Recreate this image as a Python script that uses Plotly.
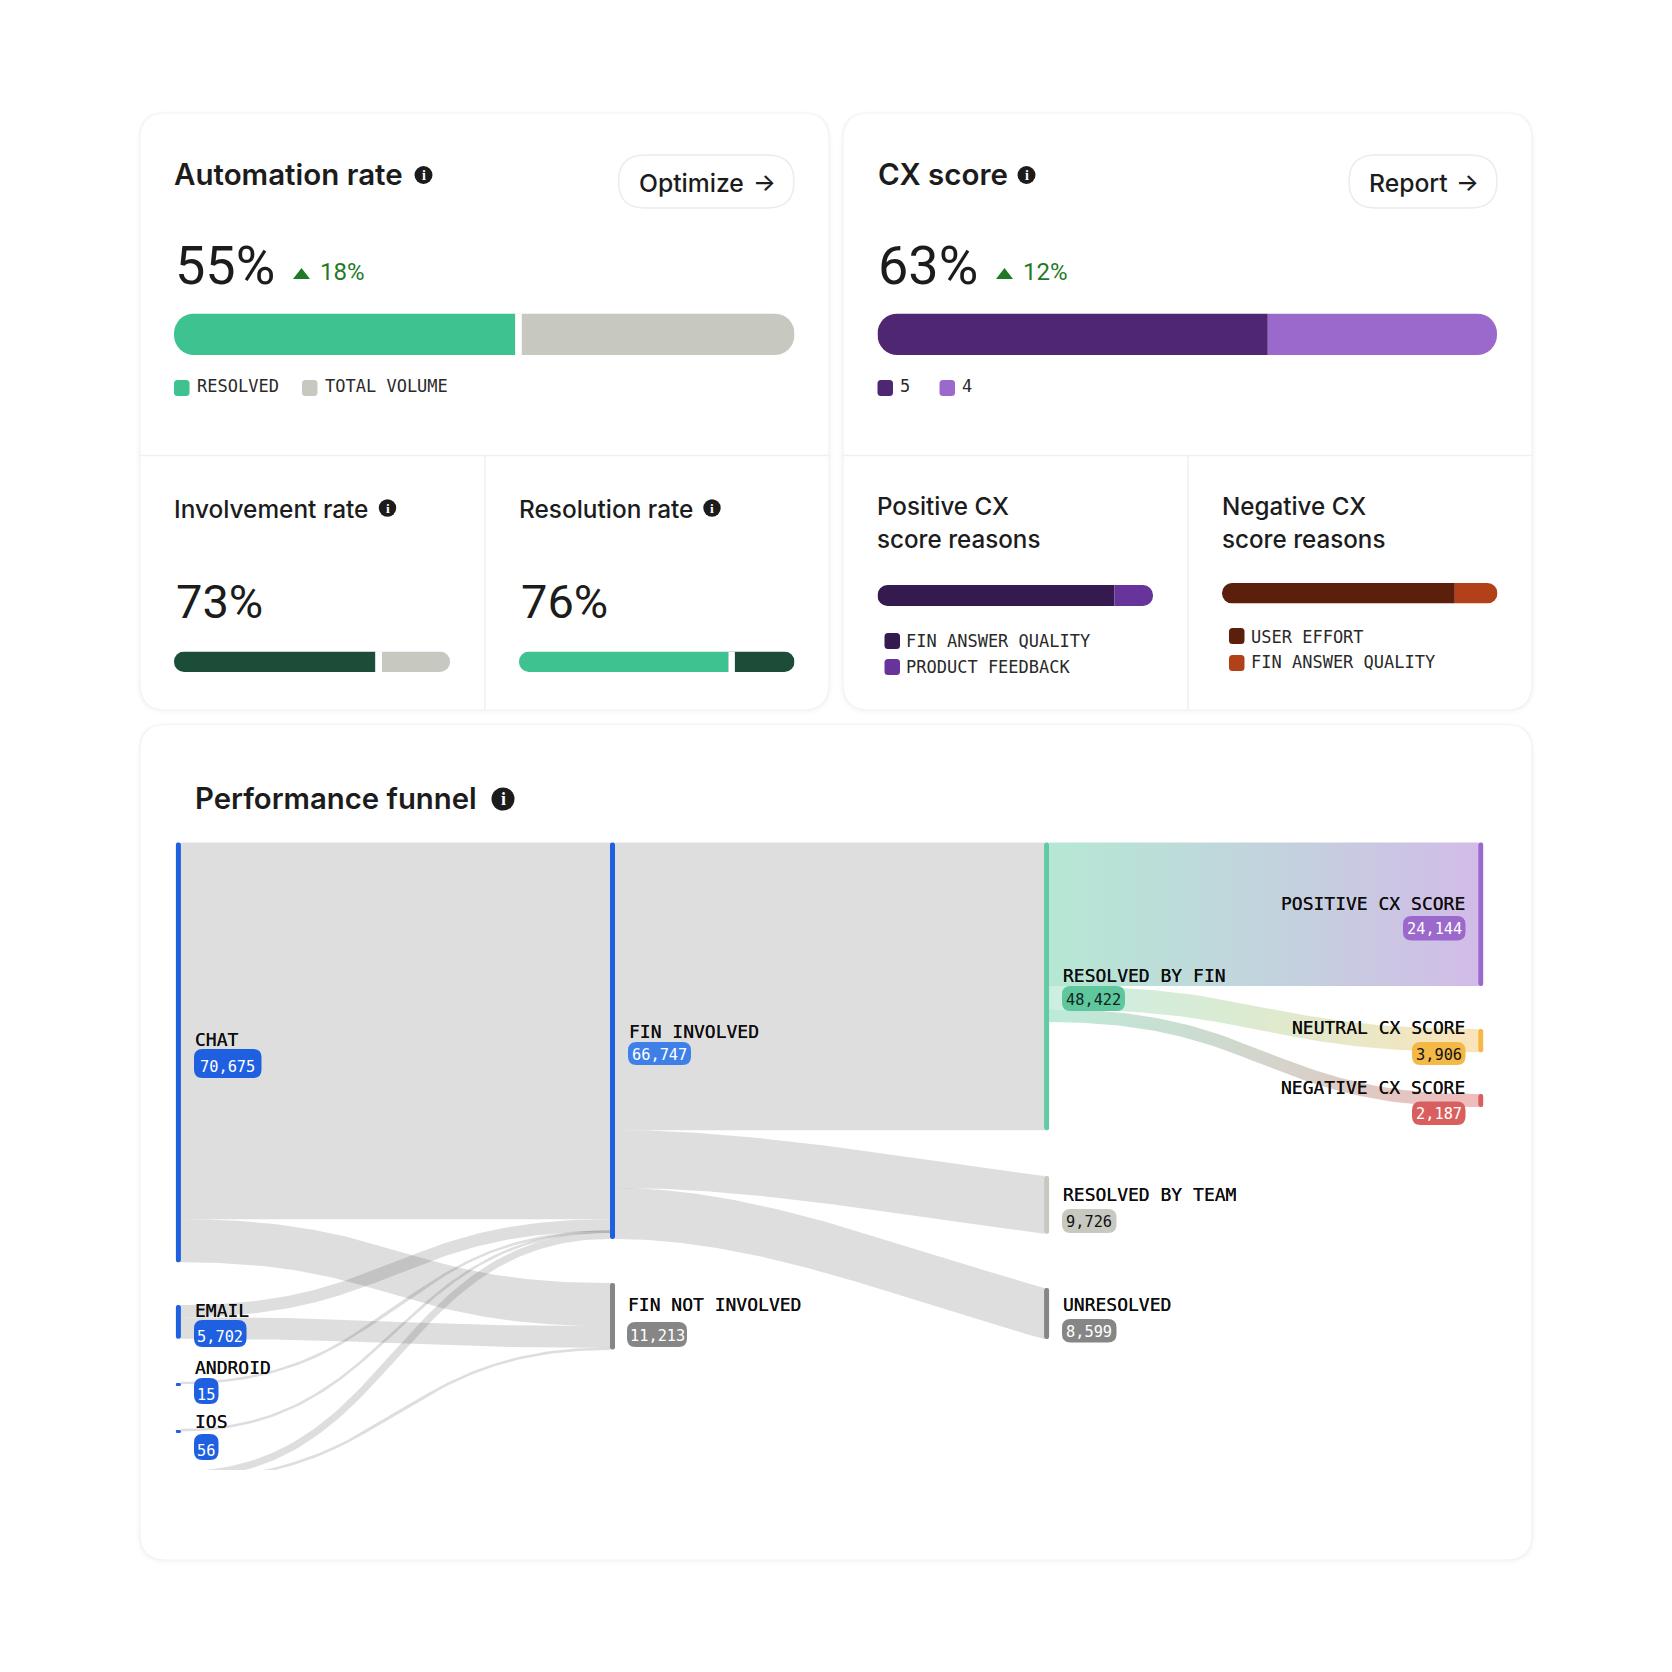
import plotly.graph_objects as go

PAGE = 1672
SANS = "Inter"
NUM = "Roboto"
MONO = "DejaVu Sans Mono"
INK = "#1c1c1c"

# ---------- data ----------
AUTOMATION_VALUES = [55, 45]
CX_VALUES = [63, 37]
INVOLVEMENT_VALUES = [73, 27]
RESOLUTION_VALUES = [76, 24]
POSITIVE_REASON_VALUES = [86, 14]
NEGATIVE_REASON_VALUES = [84.5, 15.5]

NODE_NAMES = ["CHAT", "EMAIL", "ANDROID", "IOS", "OTHER", "FIN INVOLVED", "FIN NOT INVOLVED",
              "RESOLVED BY FIN", "RESOLVED BY TEAM", "UNRESOLVED",
              "POSITIVE CX SCORE", "NEUTRAL CX SCORE", "NEGATIVE CX SCORE"]
NODE_VALUES = [70675, 5702, 15, 56, 1512, 66747, 11213, 48422, 9726, 8599, 24144, 3906, 2187]
LINK_SOURCE = [0, 0, 1, 1, 2, 3, 4, 4, 5, 5, 5, 7, 7, 7]
LINK_TARGET = [5, 6, 5, 6, 5, 5, 5, 6, 7, 8, 9, 10, 11, 12]
LINK_VALUE = [63425, 7250, 2050, 3652, 15, 56, 1201, 311, 48422, 9726, 8599, 24144, 3906, 2187]

# ---------- layout constants ----------
NODE_COLUMN = [0, 0, 0, 0, 0, 1, 1, 2, 2, 2, 3, 3, 3]
NODE_TOP_PX = [842.5, 1305, 1383, 1430, 1471, 842.5, 1283, 842.5, 1176, 1288, 842.5, 1029, 1094]
NODE_COLOR = ["#1F60E0", "#1F60E0", "#1F60E0", "#1F60E0", "#1F60E0", "#1F60E0", "#868686",
              "#62CBA4", "#C7C9C0", "#868686", "#9B69CB", "#F3B846", "#D95F5F"]
PX_PER_COUNT = 0.00594
COL_X0, COL_STEP = 178.4, 434.1
FUN_LEFT, FUN_RIGHT, FUN_TOP, FUN_BOTTOM = 170.0, 1495.0, 842.0, 1470.0
NODE_W = 5.0
SLOPED_TARGETS = {8: 1.2, 9: 1.2}


def px2col(px):
    return (px - COL_X0) / COL_STEP


def px2cnt(py):
    return (py - FUN_TOP) / PX_PER_COUNT


def rr(x0, y0, x1, y1, r):
    return (f"M{x0+r},{y0} L{x1-r},{y0} Q{x1},{y0} {x1},{y0+r} L{x1},{y1-r} Q{x1},{y1} {x1-r},{y1} "
            f"L{x0+r},{y1} Q{x0},{y1} {x0},{y1-r} L{x0},{y0+r} Q{x0},{y0} {x0+r},{y0} Z")


shapes, annos, traces = [], [], []
axes = {}


def box(x0, y0, x1, y1, r, fill, line=None, lw=0, layer="below"):
    shapes.append(dict(type="path", path=rr(x0, y0, x1, y1, r), xref="x", yref="y",
                       fillcolor=fill, line=dict(color=line or "rgba(0,0,0,0)", width=lw), layer=layer))


def text(x, y, s, size, color=INK, family=SANS, anchor="left", weight=400, shadow=None):
    font = dict(size=size, color=color, family=family, weight=weight)
    if shadow:
        font["shadow"] = shadow
    annos.append(dict(x=x, y=y, xref="x", yref="y", text=s, showarrow=False, xanchor=anchor, yanchor="middle",
                      font=font, borderpad=0))


def hline(x0, x1, y0, y1, color="#EFEFED", w=1.5):
    shapes.append(dict(type="line", x0=x0, x1=x1, y0=y0, y1=y1, xref="x", yref="y",
                       line=dict(color=color, width=w), layer="below"))


def info(x, y, r):
    shapes.append(dict(type="circle", x0=x-r, x1=x+r, y0=y-r, y1=y+r, xref="x", yref="y",
                       fillcolor="#1c1c1c", line=dict(width=0), layer="above"))
    text(x, y, "i", r*1.55, "#ffffff", "Liberation Serif", "center", 700)


def card(x0, y0, x1, y1):
    for d, a in [(5, .005), (3.5, .008), (2, .01), (1, .013)]:
        box(x0-d, y0-d*.6, x1+d, y1+d*1.2, 26+d, f"rgba(0,0,0,{a})")
    box(x0, y0, x1, y1, 26, "#ffffff", "#F3F3F1", 1.2)


def tri(x, y):
    shapes.append(dict(type="path", path=f"M{x},{y+11} L{x+8.5},{y} L{x+17},{y+11} Z", xref="x", yref="y",
                       fillcolor="#1F7A26", line=dict(width=0), layer="above"))


n_ax = [1]


def split_bar(values, colors, x0, x1, y0, y1, radius, gap_px=0):
    """Axis zero is the split: both bars grow outwards, so only their outer ends get rounded."""
    n_ax[0] += 1
    i = n_ax[0]
    axes[f"xaxis{i}"] = dict(domain=[x0/PAGE, x1/PAGE], range=[-values[0], values[1]], visible=False,
                             fixedrange=True, anchor=f"y{i}")
    axes[f"yaxis{i}"] = dict(domain=[1-y1/PAGE, 1-y0/PAGE], range=[-.5, .5], visible=False, fixedrange=True, anchor=f"x{i}")
    for val, col in ((-values[0], colors[0]), (values[1], colors[1])):
        traces.append(go.Bar(x=[val], y=[0], width=[1], orientation="h",
                             marker=dict(color=col, cornerradius=radius, line=dict(width=0)),
                             xaxis=f"x{i}", yaxis=f"y{i}", hoverinfo="skip", showlegend=False))
    if gap_px:
        gap = gap_px / (x1 - x0) * sum(values)
        traces.append(go.Bar(x=[gap], y=[0], width=[1], orientation="h",
                             marker=dict(color="#ffffff", line=dict(width=0)),
                             xaxis=f"x{i}", yaxis=f"y{i}", hoverinfo="skip", showlegend=False))


def legend_item(x, y, s, color, tx, ty):
    box(x, y-8, x+15.5, y+8, 3.5, color, layer="above")
    text(tx, ty, s, 17, "#2a2a2a", MONO)


# ---------- cards ----------
card(140, 113, 829, 710)
card(843, 113, 1532, 710)
card(140, 724.5, 1532, 1560)
hline(140, 829, 455.5, 455.5)
hline(843, 1532, 455.5, 455.5)
hline(485, 485, 456, 710)
hline(1188, 1188, 456, 710)

# ---------- top left ----------
text(173, 173.5, "Automation rate", 29.5, weight=600)
info(423.5, 175, 9)
box(618.5, 155, 794, 208, 26.5, "#ffffff", "#ECECEA", 1.5)
text(638, 183, "Optimize", 24.7, weight=500)
text(764, 182, "→", 24, weight=500, anchor="center")
text(174, 265, "55%", 54, family=NUM)
tri(293, 268)
text(318.5, 272, "18%", 24, "#1F7A26", NUM)
split_bar(AUTOMATION_VALUES, ["#3EC28F", "#C7C9C0"], 174, 794.5, 313.5, 355, 20.5, 6.5)
legend_item(174, 388, "RESOLVED", "#3EC28F", 196, 386)
legend_item(302, 388, "TOTAL VOLUME", "#C7C9C0", 323.5, 386)

text(173, 509, "Involvement rate", 24.4, weight=500)
info(387.5, 508, 8.7)
text(174.5, 601, "73%", 47, family=NUM)
split_bar(INVOLVEMENT_VALUES, ["#1B4D38", "#C7C9C0"], 174, 450, 651.5, 672, 10, 6.5)

text(518, 509, "Resolution rate", 24.4, weight=500)
info(712, 508, 8.7)
text(519.5, 601, "76%", 47, family=NUM)
split_bar(RESOLUTION_VALUES, ["#3EC28F", "#1B4D38"], 519, 794.5, 651.5, 672, 10, 6.5)

# ---------- top right ----------
text(876.5, 173.5, "CX score", 29.5, weight=600)
info(1026.5, 175, 9)
box(1349, 155, 1497, 208, 26.5, "#ffffff", "#ECECEA", 1.5)
text(1368, 183, "Report", 24.7, weight=500)
text(1467, 182, "→", 24, weight=500, anchor="center")
text(877, 265, "63%", 54, family=NUM)
tri(996, 268)
text(1021.5, 272, "12%", 24, "#1F7A26", NUM)
split_bar(CX_VALUES, ["#4F2672", "#9B69CB"], 877.5, 1497, 313.5, 355, 20.5)
legend_item(877.5, 388, "5", "#4F2672", 898.5, 386)
legend_item(939.5, 388, "4", "#9B69CB", 960.5, 386)

text(876, 506, "Positive CX", 24.2, weight=500)
text(876, 539, "score reasons", 24.2, weight=500)
split_bar(POSITIVE_REASON_VALUES, ["#351A50", "#67349B"], 877.5, 1153, 585, 606, 10)
legend_item(884.5, 641, "FIN ANSWER QUALITY", "#351A50", 905, 641)
legend_item(884.5, 667, "PRODUCT FEEDBACK", "#67349B", 905, 667)

text(1221, 506, "Negative CX", 24.2, weight=500)
text(1221, 539, "score reasons", 24.2, weight=500)
split_bar(NEGATIVE_REASON_VALUES, ["#5C1F0C", "#B24019"], 1222, 1497.5, 583, 603.5, 10)
legend_item(1229, 636, "USER EFFORT", "#5C1F0C", 1250, 637)
legend_item(1229, 663, "FIN ANSWER QUALITY", "#B24019", 1250, 662)

# ---------- funnel ----------
text(194, 798, "Performance funnel", 29.3, weight=600)
info(503, 799, 11.5)

axes["xaxis20"] = dict(domain=[FUN_LEFT/PAGE, FUN_RIGHT/PAGE], range=[px2col(FUN_LEFT), px2col(FUN_RIGHT)],
                       visible=False, fixedrange=True, anchor="y20")
axes["yaxis20"] = dict(domain=[1-FUN_BOTTOM/PAGE, 1-FUN_TOP/PAGE], range=[px2cnt(FUN_BOTTOM), px2cnt(FUN_TOP)],
                       visible=False, fixedrange=True, anchor="x20")

GRAY_LINK = "rgba(90,90,90,0.2)"
LINK_GRADIENT = {
    10: ("rgba(62,194,143,0.38)", "rgba(155,105,203,0.45)"),
    11: ("rgba(62,194,143,0.26)", "rgba(243,184,70,0.38)"),
    12: ("rgba(62,194,143,0.34)", "rgba(217,95,95,0.42)"),
}


def ribbon(x0, y0, x1, y1, w, end_slope=None, n=90):
    """A band round a horizontal bezier. With end_slope it keeps sloping into the target and is cut vertically."""
    if end_slope is None:
        c = [(x0, y0), ((x0+x1)/2, y0), ((x0+x1)/2, y1), (x1, y1)]
    else:
        dx3 = (x1-x0)/3
        c = [(x0, y0), (x0+dx3, y0), (x1-dx3, y1-end_slope*(y1-y0)/3), (x1, y1)]
    top, bot = [], []
    for j in range(n + 1):
        t = j / n
        u = 1 - t
        x = u**3*c[0][0] + 3*u*u*t*c[1][0] + 3*u*t*t*c[2][0] + t**3*c[3][0]
        y = u**3*c[0][1] + 3*u*u*t*c[1][1] + 3*u*t*t*c[2][1] + t**3*c[3][1]
        dx = 3*u*u*(c[1][0]-c[0][0]) + 6*u*t*(c[2][0]-c[1][0]) + 3*t*t*(c[3][0]-c[2][0])
        dy = 3*u*u*(c[1][1]-c[0][1]) + 6*u*t*(c[2][1]-c[1][1]) + 3*t*t*(c[3][1]-c[2][1])
        ln = (dx*dx + dy*dy)**.5 or 1
        nx, ny = (0.0, 1.0) if end_slope is not None else (-dy/ln, dx/ln)
        top.append((x + nx*w/2, y + ny*w/2))
        bot.append((x - nx*w/2, y - ny*w/2))
    pts = top + bot[::-1]
    return [p[0] for p in pts] + [top[0][0]], [p[1] for p in pts] + [top[0][1]]


src_used = [0.0]*len(NODE_NAMES)
tgt_used = [0.0]*len(NODE_NAMES)
for s, t, v in zip(LINK_SOURCE, LINK_TARGET, LINK_VALUE):
    xs = COL_X0 + COL_STEP*NODE_COLUMN[s] + NODE_W/2
    xt = COL_X0 + COL_STEP*NODE_COLUMN[t] - NODE_W/2
    vpx = v*PX_PER_COUNT
    ys = NODE_TOP_PX[s] + src_used[s] + vpx/2
    yt = NODE_TOP_PX[t] + tgt_used[t] + vpx/2
    src_used[s] += vpx
    tgt_used[t] += vpx
    rx, ry = ribbon(xs, ys, xt, yt, max(vpx, 2.6), SLOPED_TARGETS.get(t))
    kw = dict(fillcolor=GRAY_LINK)
    if t in LINK_GRADIENT:
        c0, c1 = LINK_GRADIENT[t]
        kw = dict(fillgradient=dict(type="horizontal", colorscale=[[0, c0], [1, c1]]))
    traces.append(go.Scatter(x=[px2col(a) for a in rx], y=[px2cnt(b) for b in ry], mode="lines", fill="toself",
                             line=dict(width=0), xaxis="x20", yaxis="y20", hoverinfo="skip", showlegend=False, **kw))

MIN_NODE_PX = 3.0
node_w = NODE_W / COL_STEP
for i, name in enumerate(NODE_NAMES):
    hpx = max(NODE_VALUES[i]*PX_PER_COUNT, MIN_NODE_PX)
    traces.append(go.Bar(x=[NODE_COLUMN[i]], y=[hpx/PX_PER_COUNT], base=[px2cnt(NODE_TOP_PX[i])], width=[node_w],
                         marker=dict(color=NODE_COLOR[i], cornerradius=2.5, line=dict(width=0)),
                         xaxis="x20", yaxis="y20", hoverinfo="skip", showlegend=False, name=name))


def node_label(i, lx, ly, px0, px1, py0, py1, pill, ink, anchor="left"):
    text(lx, ly, NODE_NAMES[i], 18, "#0e0e0e", MONO, anchor, 400, shadow="0 0 0.6px #0e0e0e")
    box(px0, py0, px1, py1, 8.5, pill, layer="above")
    drop = 3.5 if py1 - py0 > 25.5 else 1
    text((px0+px1)/2, (py0+py1)/2+drop, f"{NODE_VALUES[i]:,}", 15.3, ink, MONO, "center")


WHITE = "#ffffff"
node_label(0, 194, 1039.5, 194, 261.5, 1049, 1078, "#1F60E0", WHITE)
node_label(1, 194, 1310.5, 194, 246.5, 1320, 1347, "#1F60E0", WHITE)
node_label(2, 194, 1367, 194, 218.5, 1378, 1404, "#1F60E0", WHITE)
node_label(3, 194, 1421.5, 194, 218.5, 1434, 1460, "#1F60E0", WHITE)
node_label(5, 627.5, 1031, 628, 691, 1042, 1065, "#3F80E8", WHITE)
node_label(6, 626.5, 1304, 627, 687, 1322, 1347, "#868686", WHITE)
node_label(7, 1061.5, 975.5, 1062, 1125, 986, 1011, "#5EC79E", "#10241c")
node_label(8, 1061.5, 1194, 1062, 1116.5, 1209, 1233, "#C7C9C0", "#111111")
node_label(9, 1061.5, 1304, 1062, 1116.5, 1319, 1342.5, "#868686", WHITE)
node_label(10, 1465.5, 903, 1403, 1465.5, 916, 940.5, "#9B69CB", WHITE, "right")
node_label(11, 1465.5, 1027, 1412, 1465.5, 1042, 1065, "#F3B846", "#111111", "right")
node_label(12, 1465.5, 1087, 1412, 1465.5, 1101.5, 1125, "#D95F5F", WHITE, "right")

# ---------- figure ----------
fig = go.Figure(traces)
fig.update_layout(
    width=PAGE, height=PAGE, margin=dict(l=0, r=0, t=0, b=0), autosize=False,
    paper_bgcolor="#ffffff", plot_bgcolor="rgba(0,0,0,0)", barmode="overlay", showlegend=False,
    xaxis=dict(domain=[0, 1], range=[0, PAGE], visible=False, fixedrange=True),
    yaxis=dict(domain=[0, 1], range=[PAGE, 0], visible=False, fixedrange=True),
    shapes=shapes, annotations=annos, **axes,
)
fig.write_html("out.html", config=dict(displayModeBar=False),
               post_script="document.body.style.margin='0';document.documentElement.style.overflow='hidden';")
